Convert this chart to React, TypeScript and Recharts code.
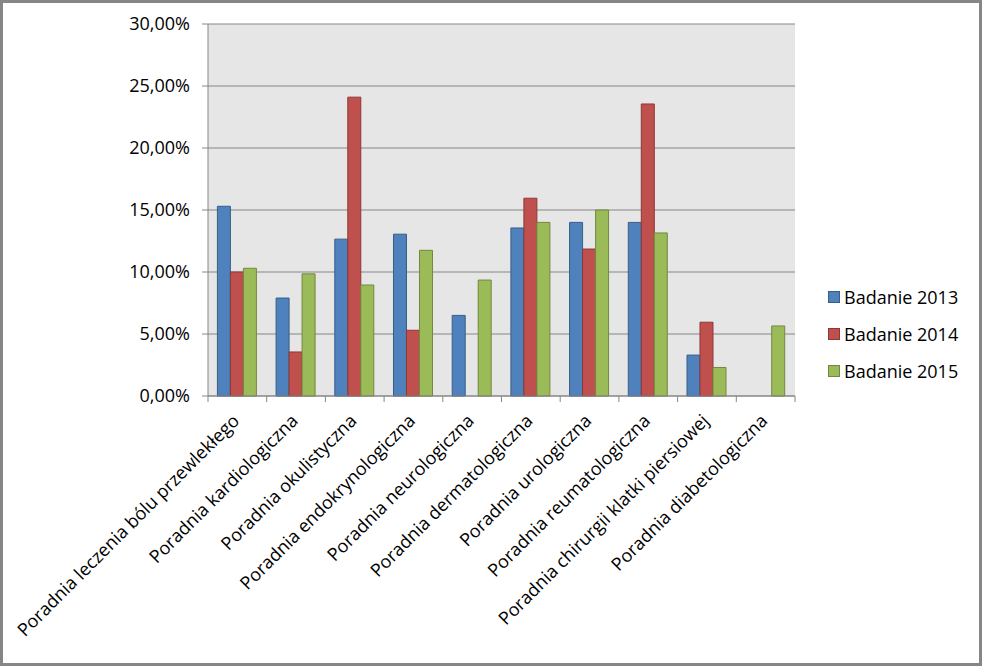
import { BarChart, Bar, XAxis, YAxis, CartesianGrid } from "recharts"

const categories = [
  "Poradnia leczenia bólu przewlekłego",
  "Poradnia kardiologiczna",
  "Poradnia okulistyczna",
  "Poradnia endokrynologiczna",
  "Poradnia neurologiczna",
  "Poradnia dermatologiczna",
  "Poradnia urologiczna",
  "Poradnia reumatologiczna",
  "Poradnia chirurgii klatki piersiowej",
  "Poradnia diabetologiczna",
]

const badanie2013 = [15.3, 7.9, 12.65, 13.05, 6.5, 13.55, 14.0, 14.0, 3.3, 0]
const badanie2014 = [10.0, 3.55, 24.1, 5.3, 0, 15.95, 11.85, 23.55, 5.95, 0]
const badanie2015 = [10.3, 9.85, 8.95, 11.75, 9.35, 14.0, 15.0, 13.15, 2.3, 5.65]

const yTicks = [0, 5, 10, 15, 20, 25, 30]

const series = [
  { key: "b2013", name: "Badanie 2013", fill: "#4f81bd", stroke: "#385d8a" },
  { key: "b2014", name: "Badanie 2014", fill: "#c0504d", stroke: "#8c3836" },
  { key: "b2015", name: "Badanie 2015", fill: "#9bbb59", stroke: "#71893f" },
]

const data = categories.map((name, i) => ({
  name,
  b2013: badanie2013[i],
  b2014: badanie2014[i],
  b2015: badanie2015[i],
}))

const FONT = "'Open Sans', sans-serif"
const BAND = 587 / categories.length

const formatPercent = (v: number) => `${v.toFixed(2).replace(".", ",")}%`

const CategoryTick = (props: any) => {
  const { x, y, payload, index } = props
  return (
    <g>
      {index === 0 && (
        <line x1={x - BAND / 2} y1={y - 8} x2={x - BAND / 2} y2={y - 2} stroke="#868686" />
      )}
      <line x1={x + BAND / 2} y1={y - 8} x2={x + BAND / 2} y2={y - 2} stroke="#868686" />
      <text
        x={x + 3}
        y={y + 18}
        transform={`rotate(-45 ${x + 3} ${y + 18})`}
        textAnchor="end"
        fontSize={18}
        fontFamily={FONT}
        fill="#000"
      >
        {payload.value}
      </text>
    </g>
  )
}

export default function App() {
  return (
    <div
      style={{
        position: "absolute",
        left: 0,
        top: 0,
        width: 982,
        height: 666,
        boxSizing: "border-box",
        border: "3px solid #868686",
        background: "#fff",
      }}
    >
      <div style={{ position: "absolute", left: -3, top: -3 }}>
        <BarChart
          width={982}
          height={666}
          data={data}
          margin={{ top: 24, right: 187, bottom: 0, left: 0 }}
          barCategoryGap="16%"
          barGap={0}
        >
          <CartesianGrid
            vertical={false}
            stroke="#868686"
            fill="#e6e6e6"
            fillOpacity={1}
          />
          <XAxis
            dataKey="name"
            interval={0}
            height={270}
            axisLine={{ stroke: "#868686" }}
            tickLine={false}
            tick={<CategoryTick />}
          />
          <YAxis
            width={208}
            domain={[0, 30]}
            ticks={yTicks}
            tickFormatter={formatPercent}
            axisLine={{ stroke: "#868686" }}
            tickLine={{ stroke: "#868686" }}
            tickSize={6}
            tickMargin={12}
            tick={{ fill: "#000", fontSize: 18, fontFamily: FONT }}
          />
          {series.map((s) => (
            <Bar
              key={s.key}
              dataKey={s.key}
              name={s.name}
              fill={s.fill}
              stroke={s.stroke}
              strokeWidth={1}
              isAnimationActive={false}
            />
          ))}
        </BarChart>
      </div>
      <div style={{ position: "absolute", left: 825, top: 275, fontFamily: FONT, fontSize: 18 }}>
        {series.map((s) => (
          <div key={s.key} style={{ display: "flex", alignItems: "center", height: 37 }}>
            <div
              style={{
                width: 10,
                height: 10,
                background: s.fill,
                border: `1px solid ${s.stroke}`,
                marginRight: 4,
              }}
            />
            <span style={{ color: "#000" }}>{s.name}</span>
          </div>
        ))}
      </div>
    </div>
  )
}
